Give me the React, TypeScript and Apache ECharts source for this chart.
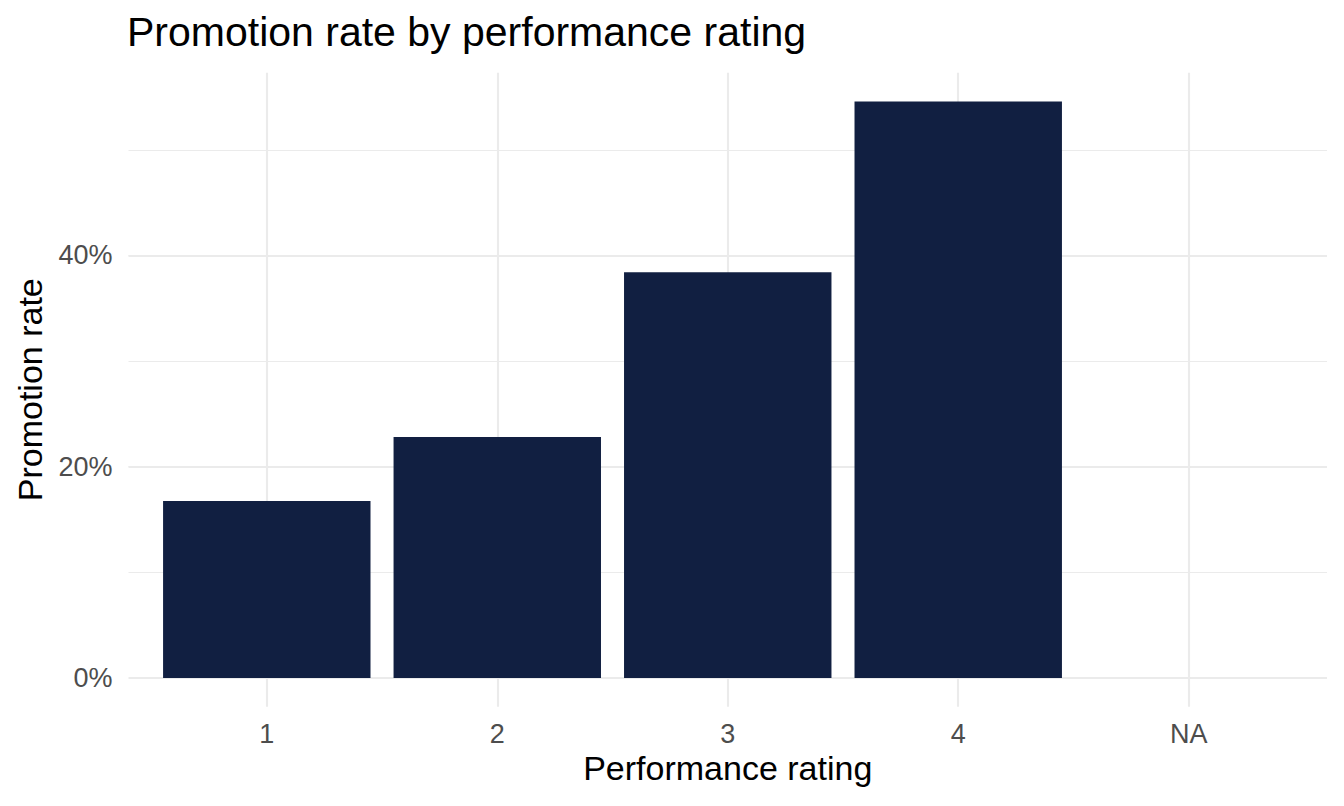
import React, { useEffect, useRef } from 'react';
import * as echarts from 'echarts';

const categories: string[] = ['1', '2', '3', '4', 'NA'];
const promotionRate: (number | null)[] = [16.75, 22.81, 38.4, 54.57, null];
const majorTicks: number[] = [0, 20, 40];
const titleText = 'Promotion rate by performance rating';
const xTitle = 'Performance rating';
const yTitle = 'Promotion rate';

const FONT = '"Liberation Sans", Arial, Helvetica, sans-serif';

export default function App() {
  const ref = useRef<HTMLDivElement>(null);
  useEffect(() => {
    document.body.style.margin = '0';
    const chart = echarts.init(ref.current!, null, { renderer: 'svg' });
    const W = 1344;
    const H = 806;
    const panelLeft = 128.5;
    const panelRight = 1327;
    const panelTop = 72.7;
    const panelBottom = 706.8;
    const vals = promotionRate.filter((v) => v != null) as number[];
    const dataMax = Math.max(...vals);
    const yMin = -0.05 * dataMax;
    const yMax = 1.05 * dataMax;
    const n = categories.length;
    const unit = (panelRight - panelLeft) / (n - 1 + 1.2);
    const firstX = panelLeft + 0.6 * unit;
    const lastX = panelRight - 0.6 * unit;
    const zeroY = panelBottom - ((0 - yMin) / (yMax - yMin)) * (panelBottom - panelTop);
    const grid = '#ebebeb';

    chart.setOption({
      animation: false,
      backgroundColor: '#ffffff',
      textStyle: { fontFamily: FONT },
      grid: [
        { left: panelLeft, right: W - panelRight, top: panelTop, bottom: H - zeroY, containLabel: false, outerBoundsMode: 'none' },
        { left: firstX, right: W - lastX, top: panelTop, bottom: H - panelBottom, containLabel: false, outerBoundsMode: 'none' },
      ],
      xAxis: [
        { type: 'value', gridIndex: 0, min: 0, max: 1, show: false },
        {
          type: 'category',
          gridIndex: 1,
          position: 'bottom',
          data: categories,
          boundaryGap: false,
          axisLine: { show: false },
          axisTick: { show: false },
          splitLine: { show: true, lineStyle: { color: grid, width: 2.1 } },
          axisLabel: {
            margin: 27,
            verticalAlign: 'middle',
            fontSize: 27,
            color: '#4d4d4d',
            fontFamily: FONT,
          },
        },
      ],
      yAxis: [
        {
          type: 'value',
          gridIndex: 0,
          position: 'left',
          min: 0,
          max: yMax,
          interval: 10,
          axisLine: { show: false },
          axisTick: { show: false },
          axisLabel: { show: false },
          splitLine: {
            show: true,
            showMinLine: false,
            showMaxLine: false,
            lineStyle: { color: grid, width: 1.07 },
          },
        },
        {
          type: 'value',
          gridIndex: 0,
          position: 'left',
          offset: 0,
          min: 0,
          max: yMax,
          interval: 20,
          axisLine: { show: false },
          axisTick: { show: false },
          axisLabel: {
            margin: 16,
            fontSize: 27,
            color: '#4d4d4d',
            fontFamily: FONT,
            formatter: (v: number) => (majorTicks.includes(v) ? v + '%' : ''),
          },
          splitLine: {
            show: true,
            showMaxLine: false,
            lineStyle: { color: grid, width: 2.1 },
          },
        },
        { type: 'value', gridIndex: 1, min: yMin, max: yMax, show: false, splitLine: { show: false } },
      ],
      series: [
        {
          type: 'bar',
          xAxisIndex: 1,
          yAxisIndex: 2,
          data: promotionRate,
          barWidth: '90%',
          clip: false,
          itemStyle: { color: '#111f41' },
          z: 5,
        },
      ],
      graphic: [
        {
          type: 'text',
          x: 127,
          y: 32.3,
          style: { text: titleText, fontSize: 41, fontFamily: FONT, fill: '#000000', align: 'left', verticalAlign: 'middle' },
        },
        {
          type: 'text',
          x: (panelLeft + panelRight) / 2,
          y: 768.3,
          style: { text: xTitle, fontSize: 34, fontFamily: FONT, fill: '#000000', align: 'center', verticalAlign: 'middle' },
        },
        {
          type: 'text',
          x: 30,
          y: (panelTop + panelBottom) / 2,
          rotation: Math.PI / 2,
          style: { text: yTitle, fontSize: 34, fontFamily: FONT, fill: '#000000', align: 'center', verticalAlign: 'middle' },
        },
      ],
    });
    return () => chart.dispose();
  }, []);
  return <div ref={ref} style={{ width: 1344, height: 806 }} />;
}
